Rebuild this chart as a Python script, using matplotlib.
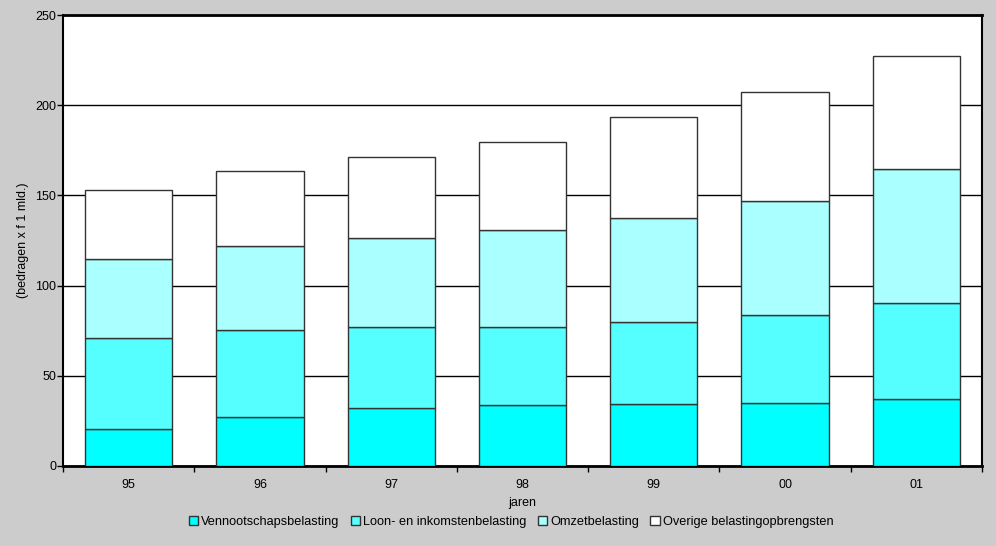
import matplotlib
matplotlib.use("Agg")
import matplotlib.pyplot as plt
import numpy as np

plt.rcParams['font.family'] = ['Liberation Sans', 'DejaVu Sans']

years = ["95", "96", "97", "98", "99", "00", "01"]
vennootschap = [20.5, 27.3, 32.2, 33.8, 34.4, 34.9, 37.0]
loon_cum = [71.0, 75.2, 77.0, 77.0, 79.8, 83.9, 90.5]
omzet_cum = [114.7, 121.8, 126.4, 130.8, 137.5, 147.1, 164.6]
totaal = [153.0, 163.7, 171.3, 179.6, 193.5, 207.5, 227.4]

loon = [b - a for a, b in zip(vennootschap, loon_cum)]
omzet = [b - a for a, b in zip(loon_cum, omzet_cum)]
overige = [b - a for a, b in zip(omzet_cum, totaal)]

series = [
    ("Vennootschapsbelasting", vennootschap, "#00FFFF"),
    ("Loon- en inkomstenbelasting", loon, "#55FFFF"),
    ("Omzetbelasting", omzet, "#AAFFFF"),
    ("Overige belastingopbrengsten", overige, "#FFFFFF"),
]

fig = plt.figure(figsize=(9.96, 5.46), dpi=100, facecolor="#CCCCCC")
ax = fig.add_axes([63/996, 80/546, (982-63)/996, (466-15)/546])
ax.set_facecolor("white")

x = np.arange(len(years))
bottom = np.zeros(len(years))
handles = []
for name, vals, col in series:
    h = ax.bar(x, vals, bottom=bottom, width=0.665, color=col,
               edgecolor="#333333", linewidth=1.0, label=name, zorder=3)
    handles.append(h)
    bottom += np.array(vals)

ax.set_xlim(-0.5, len(years) - 0.5)
ax.set_ylim(0, 250)
ax.set_yticks([0, 50, 100, 150, 200, 250])
ax.yaxis.grid(True, color="black", linewidth=1.0, zorder=0)
ax.set_axisbelow(True)

ax.set_xticks(x)
ax.set_xticklabels(years, fontsize=9)
ax.tick_params(axis='x', which='major', length=0, pad=9.5)
ax.set_xticks(np.arange(-0.5, len(years)), minor=True)
ax.tick_params(axis='x', which='minor', length=4, direction='out', width=1, color="black")
ax.tick_params(axis='y', length=4, direction='out', width=1, labelsize=9, pad=1)

for s in ax.spines.values():
    s.set_color("black")
ax.spines['bottom'].set_linewidth(2)
ax.spines['left'].set_linewidth(1.5)
ax.spines['top'].set_linewidth(2)
ax.spines['right'].set_linewidth(1.5)

ax.set_xlabel("jaren", fontsize=9)
ax.xaxis.set_label_coords(0.5, (466 - 503) / 451)
ax.xaxis.label.set_va("center")
ax.set_ylabel("(bedragen x f 1 mld.)", fontsize=9)
ax.yaxis.set_label_coords((23 - 63) / 919, 0.5)
ax.yaxis.label.set_va("center")

leg = fig.legend(handles=handles, labels=[s[0] for s in series], loc="center",
                 bbox_to_anchor=(511/996, 1 - 522/546), ncol=4, frameon=False,
                 fontsize=9.2, handlelength=0.75, handleheight=0.75,
                 handletextpad=0.2, columnspacing=0.9, borderaxespad=0)

fig.savefig("out.png", dpi=100, facecolor=fig.get_facecolor())
